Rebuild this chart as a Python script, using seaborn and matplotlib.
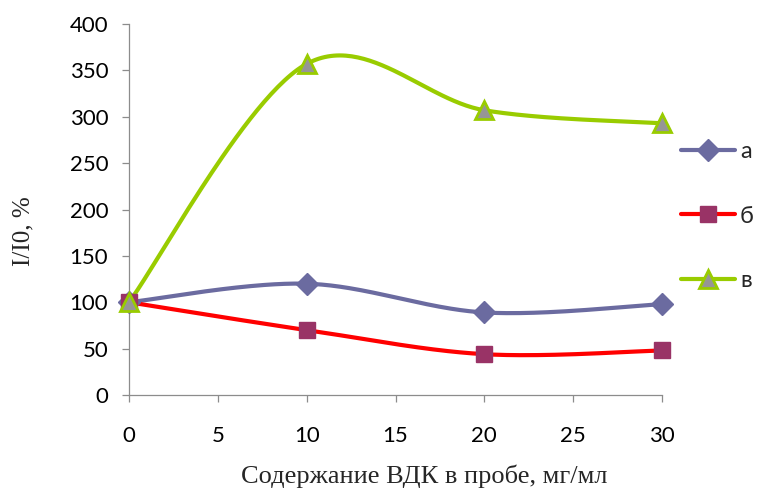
import numpy as np
import pandas as pd
import matplotlib
matplotlib.use("Agg")
import matplotlib.pyplot as plt
from matplotlib.lines import Line2D
import seaborn as sns

# Concentration of VDK in the sample, mg/ml
conc = [0, 10, 20, 30]
# Relative intensity I/I0, %
series_a = [100, 120, 89, 98]
series_b = [100, 70, 44, 48]
series_v = [100, 357, 307, 293]
labels = ["а", "б", "в"]

line_colors = ["#6B6BA0", "#FF0000", "#99CC00"]
marker_faces = ["#6B6BA0", "#993366", "#969696"]
marker_edges = ["#6B6BA0", "#993366", "#99CC00"]
markers = ["D", "s", "^"]
marker_sizes = [11, 11, 12.5]


def smooth(xs, ys, n=60):
    """Catmull-Rom style smoothing (Bezier with 1/6 control offsets)."""
    xs = np.asarray(xs, float)
    ys = np.asarray(ys, float)
    pts = np.column_stack([xs, ys])
    out = []
    for i in range(len(pts) - 1):
        p0 = pts[i - 1] if i > 0 else pts[i]
        p1 = pts[i]
        p2 = pts[i + 1]
        p3 = pts[i + 2] if i + 2 < len(pts) else pts[i + 1]
        c1 = p1 + (p2 - p0) / 6.0
        c2 = p2 - (p3 - p1) / 6.0
        t = np.linspace(0, 1, n)[:, None]
        seg = ((1 - t) ** 3) * p1 + 3 * ((1 - t) ** 2) * t * c1 \
            + 3 * (1 - t) * t ** 2 * c2 + t ** 3 * p2
        out.append(seg if i == 0 else seg[1:])
    seg = np.vstack(out)
    return seg[:, 0], seg[:, 1]


sns.set_style("white")
plt.rcParams["font.family"] = ["Lato", "DejaVu Sans"]

fig = plt.figure(figsize=(7.59, 4.88), dpi=100)
ax = fig.add_axes([129 / 759, 1 - 395 / 488, 533 / 759, 371 / 488])

frames = []
for lab, ys in zip(labels, [series_a, series_b, series_v]):
    sx, sy = smooth(conc, ys)
    frames.append(pd.DataFrame({"x": sx, "y": sy, "series": lab}))
curves = pd.concat(frames, ignore_index=True)
points = pd.DataFrame({
    "x": conc * 3,
    "y": series_a + series_b + series_v,
    "series": [l for l in labels for _ in conc],
})

for i, lab in enumerate(labels):
    sub = curves[curves.series == lab]
    sns.lineplot(data=sub, x="x", y="y", ax=ax, color=line_colors[i],
                 linewidth=3.0, sort=False, estimator=None, legend=False,
                 clip_on=False, zorder=2 + i)
for i, lab in enumerate(labels):
    sub = points[points.series == lab]
    ax.plot(sub.x, sub.y, linestyle="none", marker=markers[i],
            markersize=marker_sizes[i], markerfacecolor=marker_faces[i],
            markeredgecolor=marker_edges[i], markeredgewidth=2.0 if i == 2 else 1.0,
            clip_on=False, zorder=6 + i)

ax.set_xlim(0, 30)
ax.set_ylim(0, 400)
ax.set_xticks(range(0, 31, 5))
ax.set_yticks(range(0, 401, 50))

for side in ["top", "right"]:
    ax.spines[side].set_visible(False)
for side in ["left", "bottom"]:
    ax.spines[side].set_color("#8C8C8C")
    ax.spines[side].set_linewidth(0.9)

ax.tick_params(axis="y", direction="out", length=5, width=0.9, color="#8C8C8C",
               labelsize=16, pad=10, labelcolor="black", left=True)
ax.tick_params(axis="x", direction="out", length=5, width=0.9, color="#8C8C8C",
               labelsize=16, pad=17, labelcolor="black", bottom=True)

serif = ["Liberation Serif", "DejaVu Serif"]
ax.set_xlabel("Содержание ВДК в пробе, мг/мл", fontsize=19, family=serif)
ax.set_ylabel("I/I0, %", fontsize=18, family=serif)
ax.xaxis.set_label_coords((424 - 129) / 533, (395 - 476) / 371)
ax.xaxis.label.set_va("center")
ax.yaxis.set_label_coords((23 - 129) / 533, (395 - 231) / 371)
ax.yaxis.label.set_va("center")

handles = [
    Line2D([0], [0], color=line_colors[i], linewidth=3.0, marker=markers[i],
           markersize=marker_sizes[i], markerfacecolor=marker_faces[i],
           markeredgecolor=marker_edges[i], markeredgewidth=2.0 if i == 2 else 1.0)
    for i in range(3)
]
leg = fig.legend(handles, labels, loc="upper left",
                 bbox_to_anchor=(681 / 759, 1 - 141 / 488), frameon=False,
                 fontsize=17, handlelength=2.3, handletextpad=0.2,
                 labelspacing=1.85, borderpad=0, borderaxespad=0)

fig.savefig("out.png", dpi=100)
